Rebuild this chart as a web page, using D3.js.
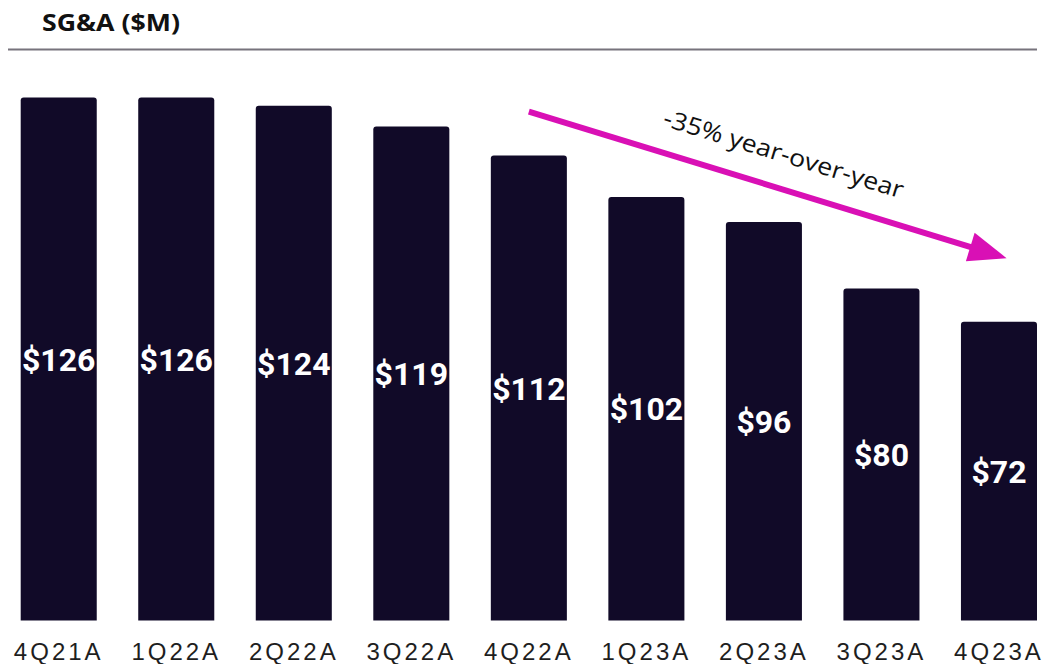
<!DOCTYPE html>
<html>
<head>
<meta charset="utf-8">
<script src="https://cdn.jsdelivr.net/npm/d3@7"></script>
<style>
  html, body { margin: 0; padding: 0; background: #ffffff; }
  svg { display: block; }
</style>
</head>
<body>
<svg id="chart" width="1045" height="664"></svg>
<script>
// Quarterly SG&A, $ millions
const quarters = ["4Q21A", "1Q22A", "2Q22A", "3Q22A", "4Q22A", "1Q23A", "2Q23A", "3Q23A", "4Q23A"];
const sgaValues = [126, 126, 124, 119, 112, 102, 96, 80, 72];
const valueLabels = ["$126", "$126", "$124", "$119", "$112", "$102", "$96", "$80", "$72"];
const chartTitle = "SG&A ($M)";
const trendLabel = "-35% year-over-year";

const W = 1045, H = 664;
const svg = d3.select("#chart");

const barColor = "#110a28";
const accent = "#d910b5";

const x = d3.scaleBand()
  .domain(quarters)
  .range([20.7, 1037])
  .paddingInner(0.353)
  .paddingOuter(0);

const y = d3.scaleLinear()
  .domain([0, 126])
  .range([620.5, 97.5]);

// Title and rule
const title = svg.append("text")
  .attr("x", 42)
  .attr("y", 31)
  .attr("font-family", "'Open Sans', sans-serif")
  .attr("font-weight", 700)
  .attr("font-size", 23)
  .attr("fill", "#111111")
  .text(chartTitle);
title.attr("textLength", 138).attr("lengthAdjust", "spacingAndGlyphs");

svg.append("line")
  .attr("x1", 8).attr("x2", 1037)
  .attr("y1", 49.5).attr("y2", 49.5)
  .attr("stroke", "#77737c")
  .attr("stroke-width", 2);

// Bars with slightly rounded top corners
const r = 3;
function barPath(d, i) {
  const x0 = x(quarters[i]);
  const x1 = x0 + x.bandwidth();
  const yt = y(d);
  const yb = y(0);
  return `M${x0},${yb}L${x0},${yt + r}Q${x0},${yt} ${x0 + r},${yt}` +
         `L${x1 - r},${yt}Q${x1},${yt} ${x1},${yt + r}L${x1},${yb}Z`;
}

svg.append("g")
  .selectAll("path")
  .data(sgaValues)
  .join("path")
  .attr("d", (d, i) => barPath(d, i))
  .attr("fill", barColor);

// Value labels centered in each bar
svg.append("g")
  .selectAll("text")
  .data(sgaValues)
  .join("text")
  .attr("x", (d, i) => x(quarters[i]) + x.bandwidth() / 2)
  .attr("y", d => (y(d) + y(0)) / 2)
  .attr("dy", "0.36em")
  .attr("text-anchor", "middle")
  .attr("font-family", "Roboto, sans-serif")
  .attr("font-weight", 700)
  .attr("font-size", 32)
  .attr("fill", "#ffffff")
  .text((d, i) => valueLabels[i]);

// Category axis
const xAxis = svg.append("g")
  .attr("transform", `translate(0,${y(0)})`)
  .call(d3.axisBottom(x).tickSize(0).tickPadding(0));
xAxis.select(".domain").remove();
xAxis.selectAll("text")
  .attr("y", 39.5)
  .attr("dy", 0)
  .attr("font-family", "'Liberation Sans', Arial, sans-serif")
  .attr("font-size", 24)
  .attr("letter-spacing", "3px")
  .attr("fill", "#1e1e1e");

// Trend arrow from 4Q22A to beyond 4Q23A
const start = [x("4Q22A") + x.bandwidth() / 2, y(122.6)];
const tip = [x("4Q23A") + x.bandwidth() * 0.6, y(87.3)];
const ang = Math.atan2(tip[1] - start[1], tip[0] - start[0]);
const headLen = 38, headHalf = 15;
const base = [tip[0] - headLen * Math.cos(ang), tip[1] - headLen * Math.sin(ang)];
const nx = -Math.sin(ang), ny = Math.cos(ang);

svg.append("line")
  .attr("x1", start[0]).attr("y1", start[1])
  .attr("x2", base[0] + 4 * Math.cos(ang)).attr("y2", base[1] + 4 * Math.sin(ang))
  .attr("stroke", accent)
  .attr("stroke-width", 6);

svg.append("path")
  .attr("d", d3.line()([
    tip,
    [base[0] + nx * headHalf, base[1] + ny * headHalf],
    [base[0] - nx * headHalf, base[1] - ny * headHalf]
  ]) + "Z")
  .attr("fill", accent);

const deg = ang * 180 / Math.PI;
const along = 131, offset = 26;
const tx = start[0] + along * Math.cos(ang) + offset * Math.sin(ang);
const ty = start[1] + along * Math.sin(ang) - offset * Math.cos(ang);
svg.append("text")
  .attr("transform", `translate(${tx},${ty}) rotate(${deg})`)
  .attr("font-family", "'Open Sans', sans-serif")
  .attr("font-size", 24)
  .attr("fill", "#111111")
  .attr("textLength", 250)
  .attr("lengthAdjust", "spacingAndGlyphs")
  .text(trendLabel);
</script>
</body>
</html>
